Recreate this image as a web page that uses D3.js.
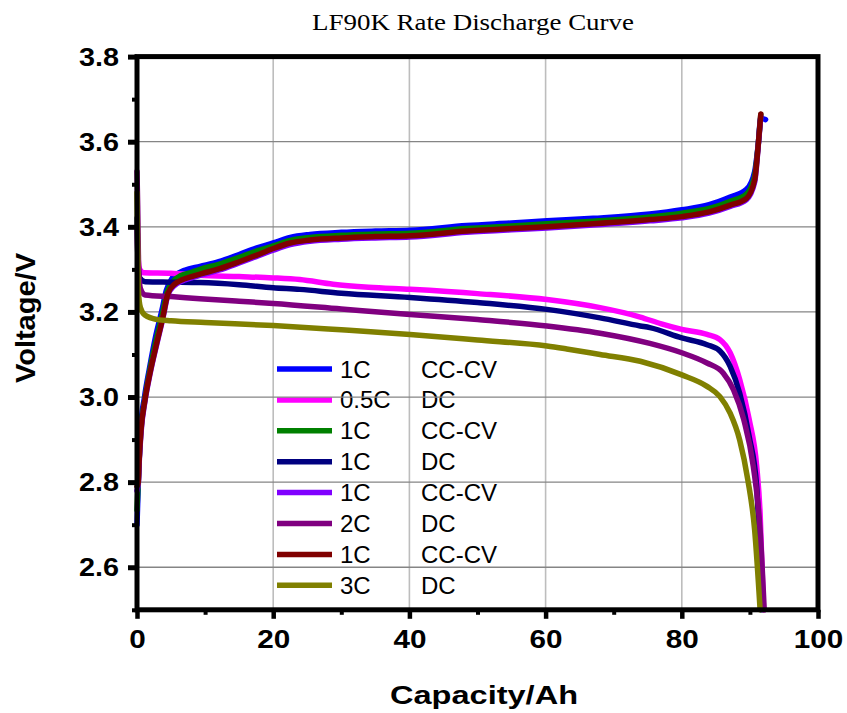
<!DOCTYPE html>
<html><head><meta charset="utf-8">
<script src="https://cdn.jsdelivr.net/npm/d3@7"></script>
<style>body{margin:0;background:#fff}svg{display:block}</style>
</head><body>
<svg id="c" width="847" height="713"></svg>
<script>
// ---- data ----
const xTicks = [0, 20, 40, 60, 80, 100];
const xMinor = [10, 30, 50, 70, 90];
const yTicks = [2.6, 2.8, 3.0, 3.2, 3.4, 3.6, 3.8];
const yMinor = [2.5, 2.7, 2.9, 3.1, 3.3, 3.5, 3.7];
const yTickLabels = ["2.6", "2.8", "3.0", "3.2", "3.4", "3.6", "3.8"];

// 1C CC-CV charge curves
const chargeBlue = [[0,2.70],[0.1,2.75],[0.2,2.80],[0.55,2.93],[1.1,3.00],[1.8,3.065],[2.7,3.14],[3.6,3.20],[4.3,3.25],[5.2,3.28],[6.3,3.293],[7,3.298],[9.25,3.307],[12,3.318],[15,3.335],[17.5,3.350],[20,3.362],[22.5,3.375],[25.4,3.382],[30,3.387],[35,3.390],[40.1,3.392],[48.4,3.403],[55,3.409],[60.2,3.414],[67,3.420],[75.3,3.430],[80,3.440],[84,3.452],[87.1,3.470],[89.5,3.488],[90.7,3.530],[91.2,3.590],[91.6,3.655],[92.3,3.652]];
const chargeGreen = [[0,2.735],[0.15,2.79],[0.25,2.83],[0.58,2.925],[1.15,2.995],[1.85,3.06],[2.8,3.133],[3.7,3.193],[4.4,3.245],[5.5,3.275],[6.4,3.285],[8,3.293],[9.25,3.300],[12,3.312],[15,3.328],[17.5,3.343],[20,3.355],[22.5,3.368],[25.4,3.375],[30,3.380],[35,3.383],[40.1,3.385],[48.4,3.396],[55,3.402],[60.2,3.407],[67,3.413],[75.3,3.423],[80,3.432],[84,3.443],[87.1,3.460],[89.5,3.477],[90.7,3.520],[91.2,3.589],[91.6,3.664]];
const chargeViolet = [[0,2.78],[0.19,2.80],[0.3,2.84],[0.6,2.918],[1.17,2.990],[1.9,3.053],[2.9,3.124],[3.8,3.185],[4.55,3.240],[5.5,3.262],[6.56,3.272],[8,3.280],[9.5,3.287],[12,3.298],[15,3.315],[17.5,3.330],[20,3.345],[22.5,3.358],[25.4,3.366],[30,3.371],[35,3.374],[40.1,3.376],[48.4,3.387],[55,3.393],[60.2,3.397],[67,3.404],[75.3,3.414],[80,3.421],[84,3.432],[87.1,3.448],[89.5,3.464],[90.7,3.505],[91.2,3.585],[91.6,3.660]];
const chargeRed = [[0,2.79],[0.19,2.80],[0.3,2.845],[0.59,2.922],[1.17,2.993],[1.9,3.056],[2.9,3.127],[3.8,3.188],[4.55,3.244],[5.5,3.265],[6.56,3.275],[8,3.283],[9.5,3.290],[12,3.301],[15,3.318],[17.5,3.333],[20,3.349],[22.5,3.362],[25.4,3.369],[30,3.374],[35,3.377],[40.1,3.379],[48.4,3.390],[55,3.396],[60.2,3.400],[67,3.407],[75.3,3.417],[80,3.424],[84,3.435],[87.1,3.451],[89.5,3.467],[90.7,3.510],[91.2,3.588],[91.6,3.665]];

// discharge curves
const dc05Magenta = [[0,3.40],[0.15,3.33],[0.4,3.30],[1,3.292],[5,3.291],[9.25,3.286],[15,3.283],[20,3.280],[23.9,3.276],[28.8,3.265],[34,3.258],[40.1,3.253],[50,3.243],[60.2,3.229],[68,3.210],[73.9,3.188],[77,3.172],[80,3.159],[83.7,3.147],[85.6,3.135],[87.1,3.104],[88.5,3.041],[89.9,2.947],[91.0,2.837],[91.5,2.727],[92.0,2.50]];
const dc1Navy = [[0,3.42],[0.15,3.32],[0.4,3.28],[1.2,3.271],[5,3.270],[9.25,3.269],[15,3.264],[20,3.257],[23.9,3.253],[30,3.244],[40.1,3.234],[50,3.222],[60.2,3.206],[68,3.186],[73.9,3.167],[75.3,3.163],[80,3.139],[83.7,3.123],[85.6,3.108],[87.1,3.072],[88.5,3.009],[89.9,2.907],[91.0,2.789],[91.7,2.50]];
const dc2Purple = [[0,3.53],[0.1,3.45],[0.25,3.30],[0.5,3.255],[1.2,3.240],[5,3.236],[9.25,3.231],[15,3.225],[20,3.220],[30,3.207],[40.1,3.194],[50,3.182],[60.2,3.167],[68,3.150],[75.3,3.126],[80,3.104],[83.7,3.080],[86.1,3.056],[87.6,3.017],[89.1,2.947],[90.5,2.837],[91.5,2.687],[92.1,2.50]];
const dc3Olive = [[0,3.48],[0.1,3.35],[0.2,3.25],[0.5,3.21],[1.2,3.192],[3,3.182],[5,3.179],[10,3.175],[20,3.168],[30,3.158],[40.1,3.147],[50,3.134],[60.2,3.120],[63.1,3.113],[68,3.100],[73.9,3.084],[80,3.052],[83.7,3.025],[85.6,3.001],[87.1,2.962],[88.5,2.899],[89.7,2.805],[90.7,2.687],[91.5,2.50]];

const seriesData = [chargeBlue, dc05Magenta, chargeGreen, dc1Navy, chargeViolet, dc2Purple, chargeRed, dc3Olive];
const legendRates = ["1C", "0.5C", "1C", "1C", "1C", "2C", "1C", "3C"];
const legendModes = ["CC-CV", "DC", "CC-CV", "DC", "CC-CV", "DC", "CC-CV", "DC"];
const seriesColors = ["#0000ff", "#ff00ff", "#008000", "#000080", "#8000ff", "#800080", "#800000", "#808000"];

// ---- drawing ----
const svg = d3.select("#c");
const L = 137, R = 818, T = 56.6, B = 609.8;
const x = d3.scaleLinear().domain([0, 100]).range([L, R]);
const y = d3.scaleLinear().domain([2.5, 3.8]).range([B, T]);

// title
svg.append("text").attr("x", 473).attr("y", 30).attr("text-anchor", "middle")
  .attr("font-family", "'Liberation Serif','Times New Roman',serif").attr("font-size", 23)
  .attr("textLength", 322).attr("lengthAdjust", "spacingAndGlyphs")
  .text("LF90K Rate Discharge Curve");

// legend (under grid)
const lg = svg.append("g");
legendRates.forEach((r, i) => {
  const yy = 369 + i * 30.9;
  lg.append("line").attr("x1", 277).attr("x2", 332).attr("y1", yy).attr("y2", yy)
    .attr("stroke", seriesColors[i]).attr("stroke-width", 5.5);
  lg.append("text").attr("x", 340).attr("y", yy + 8.5)
    .attr("font-family", "'Liberation Sans',Arial,sans-serif").attr("font-size", 24).text(r);
  lg.append("text").attr("x", 421).attr("y", yy + 8.5)
    .attr("font-family", "'Liberation Sans',Arial,sans-serif").attr("font-size", 24).text(legendModes[i]);
});

// grid
const grid = svg.append("g");
grid.selectAll("line.v").data(xTicks.filter(d => d > 0 && d < 100)).join("line")
  .attr("x1", d => x(d)).attr("x2", d => x(d)).attr("y1", T).attr("y2", B)
  .attr("stroke", "#bdbdbd").attr("stroke-width", 1.6);
grid.selectAll("line.h").data(yTicks.filter(d => d < 3.8)).join("line")
  .attr("x1", L).attr("x2", R).attr("y1", d => y(d)).attr("y2", d => y(d))
  .attr("stroke", "#858585").attr("stroke-width", 1.3);

// curves
const line = d3.line().x(d => x(d[0])).y(d => y(d[1])).curve(d3.curveMonotoneX);
svg.append("g").selectAll("path").data(seriesData).join("path")
  .attr("d", line).attr("fill", "none")
  .attr("stroke", (d, i) => seriesColors[i]).attr("stroke-width", 5.5)
  .attr("stroke-linejoin", "round").attr("stroke-linecap", "round");

// axes
const ax = svg.append("g").attr("stroke", "#000");
const bold = "'Liberation Sans',Arial,sans-serif";
// bottom axis
const xAxis = d3.axisBottom(x).tickValues(xTicks).tickSize(9).tickFormat(d3.format("d"));
const gx = svg.append("g").attr("transform", `translate(0,${B})`).call(xAxis);
gx.select(".domain").remove();
gx.selectAll(".tick line").attr("stroke-width", 4.5);
gx.selectAll(".tick text").attr("font-family", bold).attr("font-weight", "bold")
  .attr("font-size", 25).attr("dy", "0.95em").attr("y", 14)
  .attr("textLength", d => String(d).length * 16.5).attr("lengthAdjust", "spacingAndGlyphs");
const gxm = svg.append("g").attr("transform", `translate(0,${B})`)
  .call(d3.axisBottom(x).tickValues(xMinor).tickSize(5).tickFormat(""));
gxm.select(".domain").remove();
gxm.selectAll(".tick line").attr("stroke-width", 4);
// left axis
const yAxis = d3.axisLeft(y).tickValues(yTicks).tickSize(9).tickFormat((d, i) => yTickLabels[i]);
const gy = svg.append("g").attr("transform", `translate(${L},0)`).call(yAxis);
gy.select(".domain").remove();
gy.selectAll(".tick line").attr("stroke-width", 5);
gy.selectAll(".tick text").attr("font-family", bold).attr("font-weight", "bold")
  .attr("font-size", 25).attr("x", -18).attr("dy", "0.35em")
  .attr("textLength", 40).attr("lengthAdjust", "spacingAndGlyphs");
const gym = svg.append("g").attr("transform", `translate(${L},0)`)
  .call(d3.axisLeft(y).tickValues(yMinor).tickSize(5).tickFormat(""));
gym.select(".domain").remove();
gym.selectAll(".tick line").attr("stroke-width", 4);
// frame
svg.append("rect").attr("x", L).attr("y", T).attr("width", R - L).attr("height", B - T)
  .attr("fill", "none").attr("stroke", "#000").attr("stroke-width", 5);

// axis titles
svg.append("text").attr("x", 484).attr("y", 704).attr("text-anchor", "middle")
  .attr("font-family", bold).attr("font-weight", "bold").attr("font-size", 26)
  .attr("textLength", 188).attr("lengthAdjust", "spacingAndGlyphs").text("Capacity/Ah");
svg.append("text").attr("transform", "translate(35,318) rotate(-90)").attr("text-anchor", "middle")
  .attr("font-family", bold).attr("font-weight", "bold").attr("font-size", 27)
  .attr("textLength", 130).attr("lengthAdjust", "spacingAndGlyphs").text("Voltage/V");
</script>
</body></html>
